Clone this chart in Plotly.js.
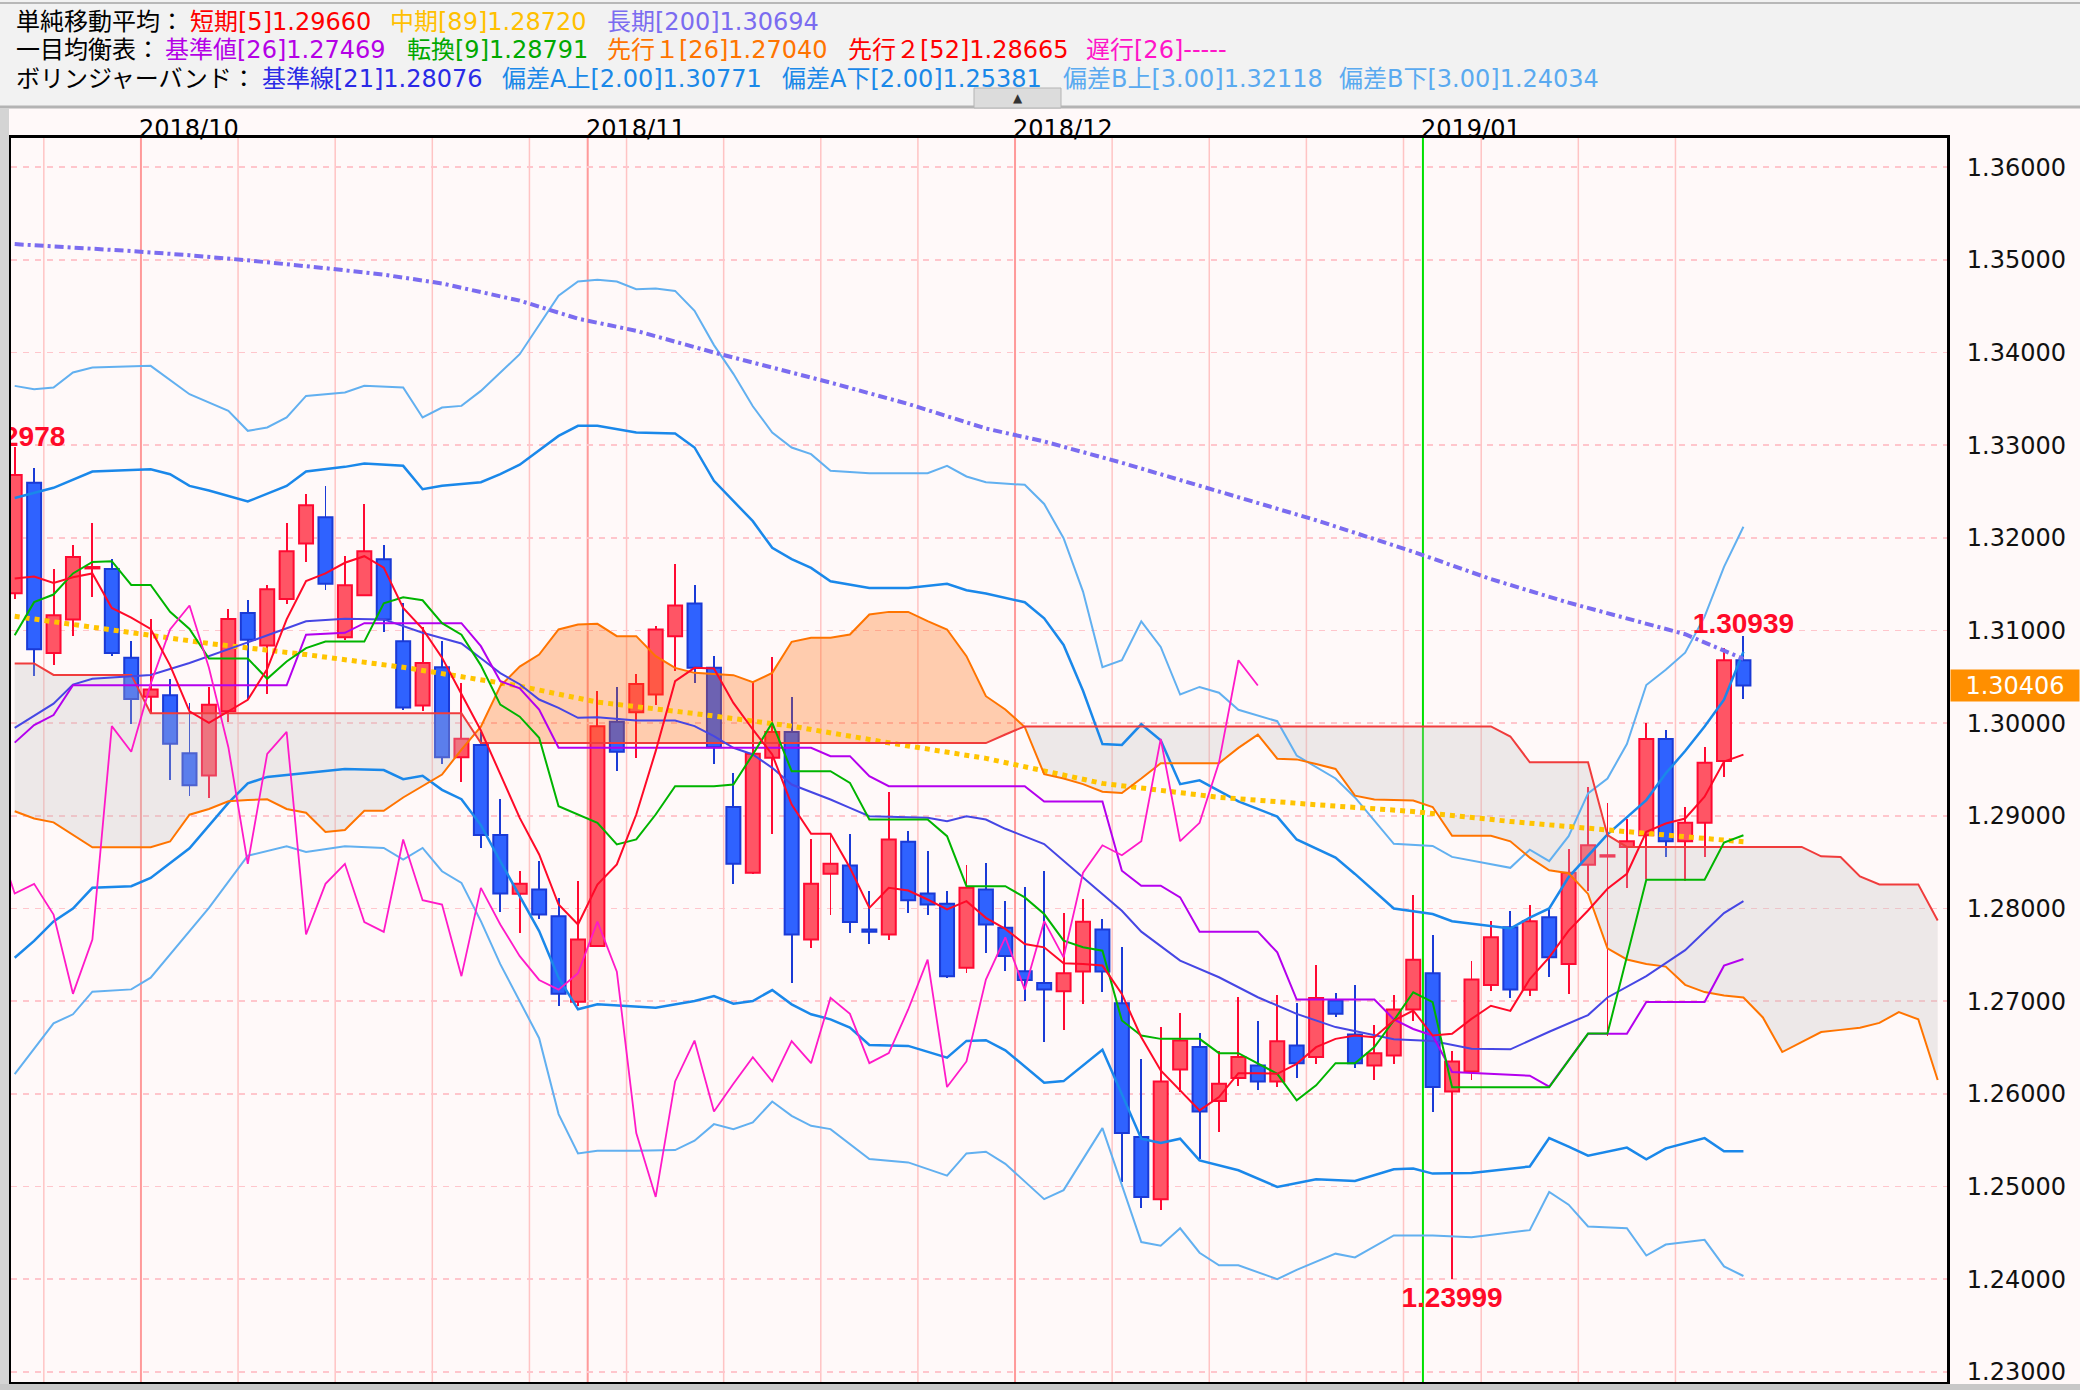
<!DOCTYPE html>
<html><head><meta charset="utf-8">
<script src="https://cdn.plot.ly/plotly-3.0.1.min.js"></script>
<style>html,body{margin:0;padding:0;background:#fff9f9;overflow:hidden}#chart{width:2080px;height:1390px}</style>
</head><body><div id="chart"></div>
<script>
// ---------- data ----------
const open = [1.31401,1.32595,1.30756,1.31120,1.31670,1.31665,1.30707,1.30285,1.30302,1.29674,
1.29434,1.30128,1.31190,1.30839,1.31339,1.31938,1.32223,1.30926,1.31380,1.31769,
1.30884,1.30190,1.30603,1.29632,1.29764,1.28793,1.28158,1.28205,1.27917,1.26993,
1.27594,1.30014,1.30119,1.30309,1.30939,1.31291,1.30597,1.29094,1.28385,1.29626,
1.29906,1.27665,1.28374,1.28464,1.27773,1.27719,1.28719,1.28162,1.28050,1.27360,
1.28205,1.27791,1.27322,1.27197,1.27107,1.27319,1.27772,1.26978,1.25534,1.24862,
1.26263,1.26504,1.25922,1.26170,1.26306,1.26134,1.26522,1.26396,1.27007,1.26640,
1.26306,1.26414,1.26910,1.27301,1.26026,1.26241,1.27175,1.27797,1.27123,1.27906,
1.27401,1.28473,1.28560,1.28664,1.28791,1.29830,1.28726,1.28924,1.29592,1.30679];
const high = [1.32978,1.32752,1.31665,1.31926,1.32161,1.31773,1.30888,1.31124,1.30475,1.30219,
1.30393,1.31236,1.31326,1.31492,1.32161,1.32471,1.32558,1.31802,1.32360,1.31926,
1.31293,1.31037,1.30888,1.30434,1.29901,1.29186,1.28403,1.28511,1.28115,1.28295,
1.30345,1.30388,1.30536,1.31054,1.31723,1.31489,1.30730,1.29457,1.30442,1.30712,
1.30281,1.28745,1.28817,1.28809,1.28187,1.29259,1.28835,1.28619,1.28187,1.28468,
1.28493,1.28079,1.28228,1.28407,1.27948,1.28102,1.27887,1.27588,1.26378,1.26719,
1.26874,1.26658,1.26460,1.27042,1.26791,1.27068,1.26981,1.27394,1.27093,1.27179,
1.26748,1.27071,1.28145,1.27714,1.26460,1.27437,1.27869,1.27976,1.28040,1.27996,
1.28646,1.29314,1.29141,1.28971,1.30007,1.29921,1.29097,1.29747,1.30812,1.30939];
const low = [1.31335,1.30508,1.30624,1.30946,1.31360,1.30727,1.29996,1.30107,1.29384,1.29211,
1.29190,1.30012,1.30252,1.30318,1.31285,1.31740,1.31438,1.30900,1.31368,1.30983,
1.30140,1.30128,1.29562,1.29364,1.28649,1.27959,1.27737,1.27892,1.26946,1.26950,
1.27580,1.29489,1.29619,1.30201,1.30561,1.30435,1.29554,1.28259,1.28374,1.28799,
1.27198,1.27576,1.27935,1.27737,1.27612,1.27655,1.27953,1.27935,1.27252,1.27306,
1.27522,1.27324,1.27000,1.26558,1.26690,1.26971,1.27096,1.25049,1.24772,1.24744,
1.26019,1.25293,1.25588,1.26083,1.26044,1.26073,1.26173,1.26324,1.26834,1.26281,
1.26152,1.26317,1.26791,1.25803,1.23999,1.26144,1.27114,1.27035,1.27058,1.27256,
1.27076,1.28184,1.26625,1.28220,1.28321,1.28556,1.28296,1.28556,1.29415,1.30260];
const close = [1.32678,1.30798,1.31165,1.31793,1.31685,1.30756,1.30260,1.30364,1.29777,1.29331,
1.30198,1.31124,1.30901,1.31446,1.31855,1.32351,1.31504,1.31488,1.31855,1.31120,
1.30169,1.30649,1.29632,1.29831,1.28793,1.28161,1.28266,1.27935,1.27079,1.27665,
1.29968,1.29691,1.30424,1.31011,1.31270,1.30597,1.29741,1.28482,1.29669,1.29906,
1.27719,1.28266,1.28482,1.27853,1.27748,1.28745,1.28090,1.28043,1.27270,1.28223,
1.27827,1.27486,1.27229,1.27125,1.27301,1.27858,1.27319,1.25577,1.24887,1.26134,
1.26575,1.25810,1.26109,1.26396,1.26134,1.26568,1.26331,1.27035,1.26863,1.26331,
1.26439,1.26910,1.27448,1.26073,1.26349,1.27233,1.27689,1.27125,1.27863,1.27473,
1.28386,1.28682,1.28575,1.28726,1.29830,1.28726,1.28924,1.29574,1.30679,1.30406];

const sma5 = [1.31560,1.31583,1.31512,1.31574,1.31616,1.31244,1.31140,1.31017,1.30624,1.30128,
1.30004,1.30128,1.30252,1.30583,1.31120,1.31533,1.31616,1.31731,1.31802,1.31678,
1.31244,1.31017,1.30707,1.30314,1.29921,1.29450,1.28978,1.28583,1.28043,1.27827,
1.28259,1.28475,1.29014,1.29698,1.30453,1.30597,1.30590,1.30219,1.29932,1.29662,
1.29122,1.28806,1.28806,1.28439,1.28007,1.28223,1.28194,1.28097,1.27989,1.28079,
1.27899,1.27780,1.27617,1.27581,1.27409,1.27402,1.27384,1.27078,1.26611,1.26252,
1.26037,1.25821,1.25965,1.26223,1.26223,1.26216,1.26324,1.26504,1.26593,1.26629,
1.26611,1.26791,1.26899,1.26629,1.26647,1.26809,1.26950,1.26895,1.27238,1.27473,
1.27762,1.27978,1.28213,1.28375,1.28827,1.28917,1.28971,1.29206,1.29585,1.29660];

const sma89X = [0,5,10,15,20,26,30,35,40,45,50,56,62,67,72,77,83,89];
const sma89Y = [1.31153,1.31004,1.30860,1.30740,1.30603,1.30400,1.30227,1.30104,1.29968,1.29788,1.29620,1.29350,1.29200,1.29120,1.29047,1.28939,1.28830,1.28720];

const sma200X = [0,3,6,9,12,16,19,22,24,26,29,32,36,42,46,50,53,57,62,67,72,76,80,86,89];
const sma200Y = [1.35170,1.35135,1.35095,1.35050,1.34995,1.34910,1.34840,1.34745,1.34650,1.34560,1.34365,1.34234,1.34000,1.33675,1.33445,1.33180,1.33040,1.32810,1.32500,1.32190,1.31850,1.31555,1.31300,1.30960,1.30694];

const tenkanX = [0,1,2,3,4,5,6,7,8,9,10,12,13,14,15,16,18,19,20,21,22,23,24,25,26,27,28,29,30,31,32,33,34,36,37,38,39,40,42,43,44,47,48,49,51,52,53,54,55,56,57,58,59,61,62,63,64,65,66,67,68,69,70,71,72,73,74,79,81,82,84,87,88,89];
const tenkanY = [1.30950,1.31306,1.31388,1.31616,1.31740,1.31748,1.31492,1.31492,1.31202,1.31017,1.30698,1.30698,1.30479,1.30665,1.30810,1.30880,1.30880,1.31293,1.31359,1.31326,1.31079,1.30955,1.30624,1.30200,1.30070,1.29842,1.29104,1.29014,1.28924,1.28691,1.28745,1.29014,1.29320,1.29320,1.29338,1.29662,1.30004,1.29482,1.29482,1.29356,1.28960,1.28960,1.28781,1.28241,1.28241,1.28120,1.27940,1.27653,1.27581,1.27545,1.26791,1.26629,1.26593,1.26593,1.26439,1.26439,1.26324,1.26216,1.25929,1.26091,1.26331,1.26331,1.26504,1.26791,1.27096,1.26989,1.26070,1.26070,1.26650,1.26650,1.28310,1.28310,1.28712,1.28791];

const kijunX = [0,1,2,3,14,15,17,18,23,24,25,26,27,28,41,42,43,44,45,52,53,56,57,58,59,60,61,64,65,66,70,71,72,73,74,78,79,81,83,84,87,88,89];
const kijunY = [1.29790,1.29980,1.30087,1.30409,1.30409,1.30955,1.30975,1.31079,1.31079,1.30831,1.30453,1.30376,1.30147,1.29734,1.29734,1.29644,1.29644,1.29428,1.29320,1.29320,1.29154,1.29154,1.28407,1.28246,1.28246,1.28120,1.27750,1.27750,1.27527,1.27017,1.27017,1.26804,1.26700,1.26629,1.26235,1.26196,1.26078,1.26647,1.26647,1.26992,1.26992,1.27383,1.27455];

// Senkou spans, positions 0..99 (already displaced forward)
const senkouA = [1.29050,1.28971,1.28930,1.28800,1.28661,1.28661,1.28661,1.28661,1.28723,1.29012,
1.29074,1.29157,1.29170,1.29178,1.29074,1.29033,1.28826,1.28847,1.29054,1.29054,
1.29198,1.29322,1.29446,1.29715,1.29963,1.30400,1.30610,1.30741,1.31011,1.31065,
1.31072,1.30939,1.30939,1.30723,1.30597,1.30543,1.30532,1.30518,1.30442,1.30543,
1.30878,1.30921,1.30921,1.30957,1.31173,1.31201,1.31201,1.31101,1.31011,1.30723,
1.30291,1.30147,1.29959,1.29450,1.29403,1.29342,1.29260,1.29247,1.29403,1.29568,
1.29568,1.29568,1.29568,1.29733,1.29877,1.29617,1.29609,1.29560,1.29506,1.29218,
1.29177,1.29170,1.29165,1.29095,1.28784,1.28784,1.28784,1.28725,1.28549,1.28412,
1.28380,1.28157,1.27569,1.27450,1.27400,1.27373,1.27176,1.27098,1.27060,1.27039,
1.26824,1.26451,1.26560,1.26667,1.26690,1.26714,1.26765,1.26882,1.26804,1.26149];
const senkouB = [1.30645,1.30645,1.30521,1.30521,1.30521,1.30521,1.30521,1.30107,1.30107,1.30107,
1.30107,1.30107,1.30107,1.30107,1.30107,1.30107,1.30107,1.30107,1.30107,1.30107,
1.30107,1.30107,1.30107,1.30107,1.29785,1.29785,1.29785,1.29785,1.29785,1.29785,
1.29785,1.29785,1.29785,1.29785,1.29785,1.29785,1.29785,1.29785,1.29785,1.29785,
1.29785,1.29785,1.29785,1.29785,1.29785,1.29785,1.29785,1.29785,1.29785,1.29785,
1.29785,1.29878,1.29965,1.29965,1.29965,1.29965,1.29965,1.29965,1.29965,1.29965,
1.29965,1.29965,1.29965,1.29965,1.29965,1.29965,1.29965,1.29965,1.29965,1.29965,
1.29965,1.29965,1.29965,1.29965,1.29965,1.29965,1.29965,1.29856,1.29578,1.29578,
1.29578,1.29578,1.28791,1.28664,1.28664,1.28664,1.28664,1.28664,1.28664,1.28664,
1.28664,1.28664,1.28664,1.28563,1.28556,1.28347,1.28260,1.28260,1.28260,1.27870];

const bbMidX = [0,2,3,4,7,9,12,15,17,19,21,23,24,25,26,27,28,29,30,32,34,35,36,37,38,39,40,41,42,43,44,47,48,49,50,51,53,55,57,58,60,62,64,66,68,71,73,75,77,79,81,82,84,86,88,89];
const bbMidY = [1.29950,1.30211,1.30417,1.30479,1.30521,1.30650,1.30872,1.31099,1.31128,1.31120,1.30975,1.30860,1.30700,1.30540,1.30420,1.30255,1.30165,1.30058,1.30065,1.30029,1.30029,1.29968,1.29860,1.29734,1.29662,1.29518,1.29338,1.29259,1.29176,1.29086,1.28996,1.28978,1.28942,1.28996,1.28960,1.28860,1.28695,1.28335,1.27976,1.27750,1.27437,1.27258,1.27042,1.26863,1.26720,1.26590,1.26570,1.26486,1.26480,1.26670,1.26850,1.27040,1.27270,1.27550,1.27950,1.28079];

const bbUp2X = [0,2,4,7,8,9,10,12,14,15,17,18,20,21,22,24,25,26,28,29,30,32,34,35,36,38,39,40,41,42,44,46,48,49,50,52,53,54,55,56,57,58,59,60,61,63,65,66,68,69,71,73,74,77,78,79,80,82,84,85,86,87,88,89];
const bbUp2Y = [1.32430,1.32540,1.32716,1.32741,1.32687,1.32561,1.32510,1.32392,1.32560,1.32716,1.32766,1.32802,1.32777,1.32525,1.32561,1.32600,1.32687,1.32790,1.33100,1.33209,1.33209,1.33137,1.33126,1.32975,1.32615,1.32180,1.31892,1.31770,1.31676,1.31532,1.31460,1.31460,1.31504,1.31435,1.31400,1.31305,1.31132,1.30844,1.30350,1.29774,1.29765,1.29988,1.29815,1.29342,1.29383,1.29156,1.28992,1.28745,1.28549,1.28373,1.28000,1.27941,1.27863,1.27784,1.27902,1.28000,1.28339,1.28800,1.29170,1.29458,1.29700,1.29964,1.30253,1.30771];

const bbUp3X = [0,1,2,3,4,7,9,11,12,13,14,15,17,18,20,21,22,23,24,26,28,29,30,31,32,33,34,35,36,37,38,39,40,41,42,44,47,48,49,50,52,53,54,55,56,57,58,59,60,61,62,63,65,66,68,69,71,73,74,77,78,79,80,81,82,83,84,85,86,87,88,89];
const bbUp3Y = [1.33640,1.33604,1.33622,1.33784,1.33838,1.33856,1.33550,1.33371,1.33155,1.33191,1.33299,1.33532,1.33568,1.33640,1.33622,1.33299,1.33406,1.33424,1.33586,1.33982,1.34612,1.34766,1.34784,1.34766,1.34683,1.34691,1.34665,1.34450,1.34080,1.33770,1.33420,1.33137,1.32975,1.32903,1.32723,1.32698,1.32698,1.32777,1.32662,1.32600,1.32572,1.32366,1.31996,1.31420,1.30605,1.30679,1.31099,1.30823,1.30309,1.30391,1.30329,1.30144,1.30021,1.29650,1.29403,1.29198,1.28698,1.28675,1.28557,1.28439,1.28635,1.28510,1.28780,1.29242,1.29403,1.29774,1.30412,1.30576,1.30761,1.31150,1.31687,1.32119];

const bbLo2X = [0,1,2,3,4,6,7,9,11,12,13,17,19,20,21,22,23,24,25,27,28,29,30,33,35,36,37,38,39,40,41,42,43,44,46,48,49,50,51,53,54,56,58,59,60,61,63,65,67,69,71,72,73,75,78,79,80,81,83,84,85,87,88,89];
const bbLo2Y = [1.27469,1.27650,1.27860,1.28000,1.28223,1.28241,1.28330,1.28650,1.29140,1.29350,1.29420,1.29505,1.29494,1.29396,1.29432,1.29280,1.29180,1.28900,1.28510,1.27756,1.27253,1.26912,1.26966,1.26930,1.27002,1.27056,1.26973,1.27002,1.27120,1.26966,1.26858,1.26804,1.26715,1.26528,1.26517,1.26391,1.26571,1.26578,1.26470,1.26120,1.26137,1.26475,1.25516,1.25470,1.25516,1.25282,1.25175,1.24995,1.25078,1.25060,1.25185,1.25193,1.25139,1.25146,1.25216,1.25522,1.25431,1.25333,1.25420,1.25294,1.25412,1.25522,1.25380,1.25381];

const bbLo3X = [0,2,3,4,6,7,10,12,14,15,17,19,20,21,22,23,24,25,27,28,29,30,32,34,35,36,37,38,39,40,41,42,44,46,48,49,50,51,53,54,56,58,59,60,61,62,63,65,66,68,69,71,73,75,78,79,80,81,83,84,85,87,88,89];
const bbLo3Y = [1.26212,1.26760,1.26858,1.27102,1.27127,1.27253,1.28007,1.28570,1.28671,1.28610,1.28671,1.28653,1.28528,1.28653,1.28402,1.28276,1.27864,1.27400,1.26600,1.25781,1.25357,1.25386,1.25386,1.25393,1.25494,1.25673,1.25619,1.25691,1.25917,1.25763,1.25655,1.25619,1.25296,1.25260,1.25117,1.25357,1.25375,1.25245,1.24863,1.24961,1.25630,1.24400,1.24360,1.24549,1.24285,1.24149,1.24149,1.24000,1.24100,1.24275,1.24235,1.24471,1.24471,1.24451,1.24529,1.24941,1.24804,1.24569,1.24549,1.24255,1.24373,1.24424,1.24137,1.24034];

const chikouShift = 25;
const priceTicks = [1.23,1.24,1.25,1.26,1.27,1.28,1.29,1.30,1.31,1.32,1.33,1.34,1.35,1.36];
const weekSeps = [1.5,11.5,16.5,21.5,26.5,31.5,36.5,41.5,46.5,56.5,61.5,66.5,71.5,75.5,80.5,85.5];
const monthSeps = [6.5,29.5,51.5];
const yearSeps = [72.5];
const monthLabels = ['2018/10','2018/11','2018/12','2019/01'];
const monthLabelPos = [6.5,29.5,51.5,72.5];

// ---------- build ----------
const idx = open.map((_, i) => i);
const up = idx.map(i => close[i] >= open[i]);
const bodyFill = up.map(u => u ? '#ff5565' : '#2f62ff');
const bodyEdge = up.map(u => u ? '#ff0a32' : '#1a3ad6');

const W = 2080, H = 1390, ML = 11, MR = 133, MT = 138, MB = 8;
const PW = W - ML - MR, PH = H - MT - MB;
const PX = x => (x - ML) / PW;
const PY = y => (H - MB - y) / PH;
const YR = [1.2289, 1.36315];
const pxToPrice = p => p * (YR[1] - YR[0]) / PH;

function cloud(xs, A, B, s) {
  const X = [], Y = [];
  let top = [], bot = [];
  const flush = () => {
    if (top.length > 1) {
      top.forEach(p => { X.push(p[0]); Y.push(p[1]); });
      for (let j = bot.length - 1; j >= 0; j--) { X.push(bot[j][0]); Y.push(bot[j][1]); }
      X.push(null); Y.push(null);
    }
    top = []; bot = [];
  };
  for (let k = 0; k < xs.length; k++) {
    const d = (A[k] - B[k]) * s;
    if (k > 0) {
      const dp = (A[k-1] - B[k-1]) * s;
      if ((dp > 0) !== (d > 0) && dp !== d) {
        const t = dp / (dp - d);
        const xc = xs[k-1] + t * (xs[k] - xs[k-1]);
        const yc = A[k-1] + t * (A[k] - A[k-1]);
        top.push([xc, yc]); bot.push([xc, yc]);
        if (dp > 0) flush();
      }
    }
    if (d > 0) { top.push([xs[k], A[k]]); bot.push([xs[k], B[k]]); }
  }
  flush();
  return {X, Y};
}
const senX = senkouA.map((_, i) => i);
const cOr = cloud(senX, senkouA, senkouB, 1);
const cGr = cloud(senX, senkouA, senkouB, -1);

const line = (x, y, color, width, dash) => ({type:'scatter', mode:'lines', x, y, hoverinfo:'skip',
  line:{color, width, dash: dash || 'solid'}, showlegend:false});

const traces = [
  {type:'bar', x: idx, base: low, y: idx.map(i => high[i] - low[i]), width: 0.1,
   marker:{color: bodyEdge, line:{width:0}}, hoverinfo:'skip', showlegend:false},
  {type:'bar', x: idx, base: idx.map(i => Math.min(open[i], close[i])),
   y: idx.map(i => Math.max(Math.abs(close[i] - open[i]), 0.00012)), width: 0.72,
   marker:{color: bodyFill, line:{color: bodyEdge, width: 2}}, hoverinfo:'skip', showlegend:false},
  {type:'scatter', mode:'lines', x: cOr.X, y: cOr.Y, fill:'toself', fillcolor:'rgba(255,100,0,0.30)',
   line:{width:0, color:'rgba(0,0,0,0)'}, hoverinfo:'skip', showlegend:false},
  {type:'scatter', mode:'lines', x: cGr.X, y: cGr.Y, fill:'toself', fillcolor:'rgba(196,192,192,0.30)',
   line:{width:0, color:'rgba(0,0,0,0)'}, hoverinfo:'skip', showlegend:false},
  line(bbUp3X, bbUp3Y, '#62b0f0', 2),
  line(bbLo3X, bbLo3Y, '#62b0f0', 2),
  line(bbUp2X, bbUp2Y, '#1a88ea', 2.5),
  line(bbLo2X, bbLo2Y, '#1a88ea', 2.5),
  line(sma200X, sma200Y, '#7b6cf0', 4, '9px,4px,3px,4px'),
  line(sma89X, sma89Y, '#ffc400', 5, 'dot'),
  line(senX, senkouA, '#ff7400', 2),
  line(senX, senkouB, '#f03c3c', 2),
  line(bbMidX, bbMidY, '#4646e4', 2),
  line(kijunX, kijunY, '#b400ee', 2),
  line(tenkanX, tenkanY, '#00b400', 2),
  line(idx.map(i => i - chikouShift), close, '#ff1ac8', 1.8),
  line(idx, sma5, '#ff0a28', 2),
];

// high / low markers (text centred a few pixels beyond the extreme)
const hiIdx = high.indexOf(Math.max(...high));
const loIdx = low.indexOf(Math.min(...low));
const lastIdx = idx.length - 1;
traces.push({type:'scatter', mode:'text', cliponaxis:true, hoverinfo:'skip', showlegend:false,
  x:[hiIdx, loIdx, lastIdx],
  y:[high[hiIdx] + pxToPrice(8), low[loIdx] - pxToPrice(21), high[lastIdx] + pxToPrice(10)],
  text:[high[hiIdx].toFixed(5), low[loIdx].toFixed(5), high[lastIdx].toFixed(5)],
  textposition:'middle center',
  textfont:{family:'Liberation Sans, Arial, sans-serif', size:28, color:'#ff0a28', weight:'bold'}});

const shapes = [];
shapes.push({type:'rect', xref:'paper', yref:'paper', x0:PX(0), x1:PX(W), y0:PY(107), y1:PY(0), fillcolor:'#f2f2f2', line:{width:0}, layer:'below'});
shapes.push({type:'line', xref:'paper', yref:'paper', x0:PX(0), x1:PX(W), y0:PY(3), y1:PY(3), line:{color:'#b8b8b8', width:2}});
shapes.push({type:'line', xref:'paper', yref:'paper', x0:PX(0), x1:PX(W), y0:PY(107), y1:PY(107), line:{color:'#b4b4b4', width:3}});
shapes.push({type:'rect', xref:'paper', yref:'paper', x0:PX(0), x1:PX(9), y0:PY(H), y1:PY(108), fillcolor:'#d4d4d4', line:{width:0}});
shapes.push({type:'rect', xref:'paper', yref:'paper', x0:PX(0), x1:PX(W), y0:PY(H), y1:PY(1384), fillcolor:'#c8c8c8', line:{width:0}});
shapes.push({type:'rect', xref:'paper', yref:'paper', x0:PX(974), x1:PX(1061), y0:PY(108), y1:PY(88), fillcolor:'#dcdcdc', line:{color:'#b4b4b4', width:1}});
weekSeps.forEach(x => shapes.push({type:'line', xref:'x', yref:'paper', x0:x, x1:x, y0:0, y1:1, line:{color:'#ffc4c4', width:1.5}, layer:'below'}));
monthSeps.forEach(x => shapes.push({type:'line', xref:'x', yref:'paper', x0:x, x1:x, y0:0, y1:1, line:{color:'#ff9a9a', width:2}, layer:'below'}));
yearSeps.forEach(x => shapes.push({type:'line', xref:'x', yref:'paper', x0:x, x1:x, y0:0, y1:1, line:{color:'#00e000', width:2}, layer:'below'}));

const HF = 'DejaVu Sans, Noto Sans CJK JP, sans-serif';
const annotations = [];
const hdr = (x, y, text, color) => annotations.push({xref:'paper', yref:'paper', x:PX(x), y:PY(y), xanchor:'left', yanchor:'middle',
  text, showarrow:false, font:{family:HF, size:24, color}});
hdr(14, 22, '単純移動平均：', '#000000');
hdr(188, 22, '短期[5]1.29660', '#ff0000');
hdr(388, 22, '中期[89]1.28720', '#ffc000');
hdr(605, 22, '長期[200]1.30694', '#7b6cf0');
hdr(14, 50, '一目均衡表：', '#000000');
hdr(163, 50, '基準値[26]1.27469', '#b400e6');
hdr(405, 50, '転換[9]1.28791', '#00a800');
hdr(605, 50, '先行１[26]1.27040', '#ff7400');
hdr(846, 50, '先行２[52]1.28665', '#ff0000');
hdr(1084, 50, '遅行[26]-----', '#ff14c8');
hdr(14, 79, 'ボリンジャーバンド：', '#000000');
hdr(260, 79, '基準線[21]1.28076', '#2a2ae6');
hdr(500, 79, '偏差A上[2.00]1.30771', '#1a88e8');
hdr(780, 79, '偏差A下[2.00]1.25381', '#1a88e8');
hdr(1061, 79, '偏差B上[3.00]1.32118', '#5aaaf0');
hdr(1337, 79, '偏差B下[3.00]1.24034', '#5aaaf0');
annotations.push({xref:'paper', yref:'paper', x:PX(1017.5), y:PY(98), text:'▲', showarrow:false,
  font:{family:'DejaVu Sans', size:12, color:'#333'}, xanchor:'center', yanchor:'middle'});
monthLabels.forEach((t, k) => annotations.push({xref:'x', yref:'paper', x:monthLabelPos[k], y:PY(129), xanchor:'left', yanchor:'middle',
  xshift:-4, text:t, showarrow:false, font:{family:'DejaVu Sans', size:24, color:'#000'}}));
annotations.push({xref:'paper', yref:'y', x:PX(1950), y:close[lastIdx], xanchor:'left', yanchor:'middle',
  text:close[lastIdx].toFixed(5), showarrow:false, bgcolor:'#ff8f00', width:128, height:31, borderpad:0,
  font:{family:'DejaVu Sans', size:24, color:'#ffffff'}});

const layout = {
  width:W, height:H, margin:{l:ML, r:MR, t:MT, b:MB, autoexpand:false},
  paper_bgcolor:'#fff9f9', plot_bgcolor:'#fff9f9', barmode:'overlay', bargap:0,
  showlegend:false, hovermode:false, font:{family:HF},
  xaxis:{range:[-0.19, 99.48], showgrid:false, zeroline:false, showticklabels:false, ticks:'',
    showline:true, mirror:true, linecolor:'#000', linewidth:3, fixedrange:true},
  yaxis:{range:YR, side:'right', tickvals:priceTicks, ticktext:priceTicks.map(v => v.toFixed(5)),
    showgrid:true, gridcolor:'#ffc6cc', gridwidth:1.5, griddash:'6px,6px', zeroline:false,
    showline:true, mirror:true, linecolor:'#000', linewidth:3, ticks:'outside', ticklen:12, tickcolor:'rgba(0,0,0,0)',
    tickfont:{family:'DejaVu Sans', size:24, color:'#111'}, automargin:false, fixedrange:true},
  shapes, annotations
};
Plotly.newPlot('chart', traces, layout, {staticPlot:true, displayModeBar:false});
</script></body></html>
